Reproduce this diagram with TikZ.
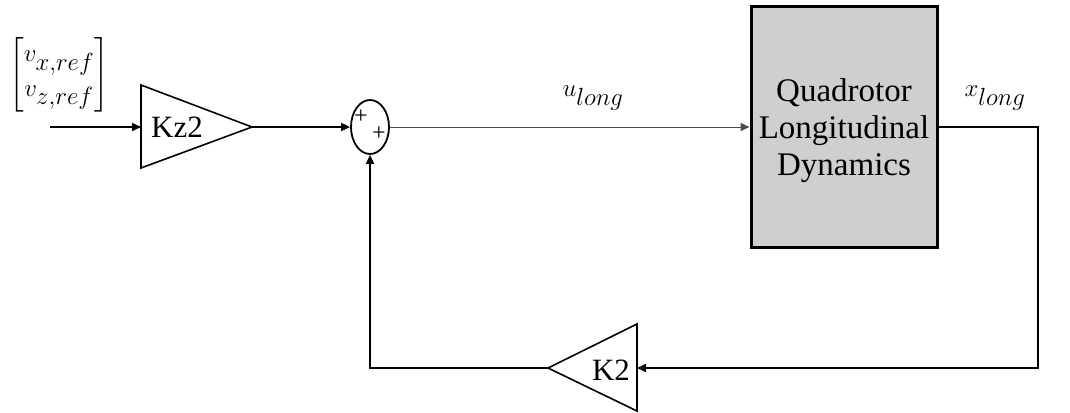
\documentclass[tikz,border=0pt]{standalone}
\usepackage{fontspec}
\setmainfont{Liberation Serif}
\usepackage{amsmath}
\usetikzlibrary{arrows.meta,shapes.geometric,calc}
\begin{document}
\begin{tikzpicture}[x=1pt,y=-1pt,
  wire/.style={line width=1.8pt,draw=black},
  thinwire/.style={line width=1pt,draw=black!70},
  arr/.style={-{Triangle[length=9pt,width=8pt]}},
  gain/.style={line width=1.6pt,draw=black},
  gaintext/.style={font=\fontsize{31}{36}\selectfont,inner sep=0pt},
  mathlbl/.style={font=\fontsize{38}{42}\selectfont,inner sep=0pt},
  plant/.style={draw=black,line width=3pt,fill=black!19,minimum width=186pt,minimum height=240pt,inner sep=0pt},
  planttext/.style={align=center,font=\fontsize{33}{37}\selectfont,inner sep=0pt},
  summer/.style={draw=black,line width=1.8pt,ellipse,minimum width=38pt,minimum height=54pt,inner sep=0pt},
  plus/.style={font=\fontsize{24}{24}\selectfont,inner sep=0pt}
]
\useasboundingbox (0,0) rectangle (1070,412);

% input
\coordinate (inp) at (50,127);
\node[mathlbl] (ref) at (59,75) {$\left[\renewcommand{\arraystretch}{0.72}\begin{array}{@{}c@{}}v_{x,ref}\\ v_{z,ref}\end{array}\right]$};

% Kz2 gain
\coordinate (kz2in) at (141,127);
\coordinate (kz2out) at (252,127);
\draw[gain] (141,85) -- (252,127) -- (141,168) -- cycle;
\node[gaintext] (kz2) at (177,127) {Kz2};

% summing junction
\node[summer] (sum) at (370,127) {};
\node[plus] (p1) at (361,117) {+};
\node[plus] (p2) at (379,134) {+};

% plant
\node[plant] (plant) at (844,127) {};
\node[planttext] (ptxt) at (844,131) {Quadrotor\\Longitudinal\\Dynamics};

% labels
\node[mathlbl] (ulab) at (593,98) {$u_{long}$};
\node[mathlbl] (xlab) at (995,98) {$x_{long}$};

% K2 gain
\coordinate (k2in) at (637,368);
\coordinate (k2out) at (548,368);
\draw[gain] (637,324) -- (548,368) -- (637,411) -- cycle;
\node[gaintext] (k2) at (611,370) {K2};

\coordinate (rc) at (1038,127);

% connectors
\draw[wire,arr] (inp) -- (kz2in);
\draw[wire,arr] (kz2out) -- (sum.west);
\draw[thinwire,arr] (sum.east) -- (plant.west);
\draw[wire,arr] (plant.east) -- (rc) |- (k2in);
\draw[wire,arr] (k2out) -| (sum.south);
\end{tikzpicture}
\end{document}
